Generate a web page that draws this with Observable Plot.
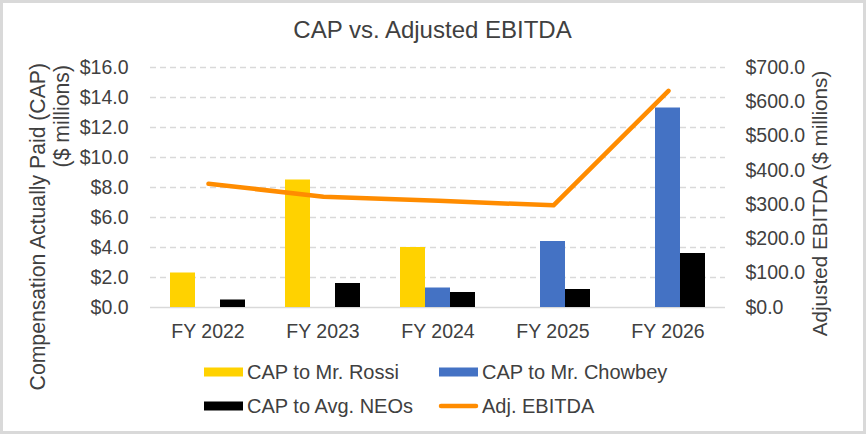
<!DOCTYPE html>
<html><head><meta charset="utf-8">
<script src="https://cdn.jsdelivr.net/npm/d3@7"></script>
<script src="https://cdn.jsdelivr.net/npm/@observablehq/plot@0.6"></script>
<style>
body{margin:0;background:#fff;}
#wrap{position:relative;width:866px;height:434px;overflow:hidden;background:#fff;}
#wrap svg{position:absolute;left:0;top:0;}
.frame{position:absolute;left:0;top:0;width:866px;height:434px;box-sizing:border-box;border:3px solid #d9d9d9;pointer-events:none;}
</style></head><body><div id="wrap"></div>
<script>
// ---- data ----
const years = ["FY 2022", "FY 2023", "FY 2024", "FY 2025", "FY 2026"];
const seriesNames = ["CAP to Mr. Rossi", "CAP to Mr. Chowbey", "CAP to Avg. NEOs"];
const rossi   = [2.3, 8.5, 4.0, null, null];
const chowbey = [null, null, 1.3, 4.4, 13.3];
const neos    = [0.5, 1.6, 1.0, 1.2, 3.6];
const ebitda  = [361, 323, 311, 298, 632];
const lineName = "Adj. EBITDA";
const capTicks = [0, 2, 4, 6, 8, 10, 12, 14, 16];
const ebitdaTicks = [0, 100, 200, 300, 400, 500, 600, 700];
const colors = ["#FFD200", "#4472C4", "#000000"];
const lineColor = "#FF8C00";

// ---- tables ----
const seriesValues = [rossi, chowbey, neos];
const barRows = [];
years.forEach((y, i) => seriesNames.forEach((s, j) => {
  const v = seriesValues[j][i];
  if (v != null) barRows.push({year: y, series: s, value: v});
}));
const lineRows = years.map((y, i) => ({year: y, value: ebitda[i]}));

const font = "'Liberation Sans', Arial, sans-serif";
const txt = "#404040";
const W = 866, H = 340, mL = 150, mR = 141, mT = 67, mB = 33;
const base = {width: W, height: H, marginLeft: mL, marginRight: mR, marginTop: mT, marginBottom: mB,
  style: {fontFamily: font, fontSize: "19.5px", color: txt, background: "transparent", overflow: "visible"}};
const fmtCap = d => "$" + d.toFixed(1);

// layer 1: grid + left axis
const gridPlot = Plot.plot({...base,
  x: {type: "point", domain: years, padding: 0.5, axis: null},
  y: {domain: [0, 16], ticks: capTicks, tickFormat: fmtCap, tickSize: 0, tickPadding: 22, label: null},
  marks: [
    Plot.ruleY(capTicks.filter(d => d > 0), {stroke: "#d9d9d9", strokeWidth: 1.3, strokeDasharray: "6,4"}),
    Plot.ruleY([0], {stroke: "#d9d9d9", strokeWidth: 1.5})
  ]
});

// layer 2: bars
const barPlot = Plot.plot({...base,
  facet: {data: barRows, x: "year"},
  fx: {domain: years, paddingInner: 0.33, paddingOuter: 0.165, axis: "bottom", tickSize: 0, tickPadding: 17, label: null},
  x: {domain: seriesNames, padding: 0, axis: null},
  y: {domain: [0, 16], axis: null},
  color: {domain: seriesNames, range: colors},
  marks: [
    Plot.barY(barRows, {x: "series", y: "value", fill: "series"})
  ]
});

// layer 3: line + right axis
const linePlot = Plot.plot({...base,
  x: {type: "point", domain: years, padding: 0.5, axis: null},
  y: {domain: [0, 700], axis: "right", ticks: ebitdaTicks, tickFormat: fmtCap, tickSize: 0, tickPadding: 20, label: null},
  marks: [
    Plot.line(lineRows, {x: "year", y: "value", stroke: lineColor, strokeWidth: 4.5, strokeLinejoin: "round", strokeLinecap: "round"})
  ]
});

const wrap = document.getElementById("wrap");
[gridPlot, barPlot, linePlot].forEach(p => wrap.appendChild(p));

// text + legend layer
const svg = d3.select(wrap).append("svg").attr("width", 866).attr("height", 434)
  .style("font-family", font).attr("fill", txt);
svg.append("text").attr("x", 432.5).attr("y", 38).attr("text-anchor", "middle")
  .attr("font-size", 24).text("CAP vs. Adjusted EBITDA");
svg.append("text").attr("transform", "translate(45,63) rotate(-90)").attr("text-anchor", "end")
  .attr("font-size", 21.2).text("Compensation Actually Paid (CAP)");
svg.append("text").attr("transform", "translate(69,65) rotate(-90)").attr("text-anchor", "end")
  .attr("font-size", 21.2).text("($ millions)");
svg.append("text").attr("transform", "translate(827,203.5) rotate(-90)").attr("text-anchor", "middle")
  .attr("font-size", 20.7).text("Adjusted EBITDA ($ millions)");

const legendItems = [
  {name: seriesNames[0], color: colors[0], type: "rect", x: 204, y: 372},
  {name: seriesNames[1], color: colors[1], type: "rect", x: 439, y: 372},
  {name: seriesNames[2], color: colors[2], type: "rect", x: 204, y: 406},
  {name: lineName, color: lineColor, type: "line", x: 439, y: 406}
];
legendItems.forEach(it => {
  if (it.type === "rect") {
    svg.append("rect").attr("x", it.x).attr("y", it.y - 4.5).attr("width", 39).attr("height", 9).attr("fill", it.color);
  } else {
    svg.append("line").attr("x1", it.x + 2).attr("x2", it.x + 37).attr("y1", it.y).attr("y2", it.y)
      .attr("stroke", it.color).attr("stroke-width", 4.5).attr("stroke-linecap", "round");
  }
  svg.append("text").attr("x", it.x + 43).attr("y", it.y + 7).attr("font-size", 20).text(it.name);
});

const frame = document.createElement("div"); frame.className = "frame"; wrap.appendChild(frame);
</script>
</body></html>
